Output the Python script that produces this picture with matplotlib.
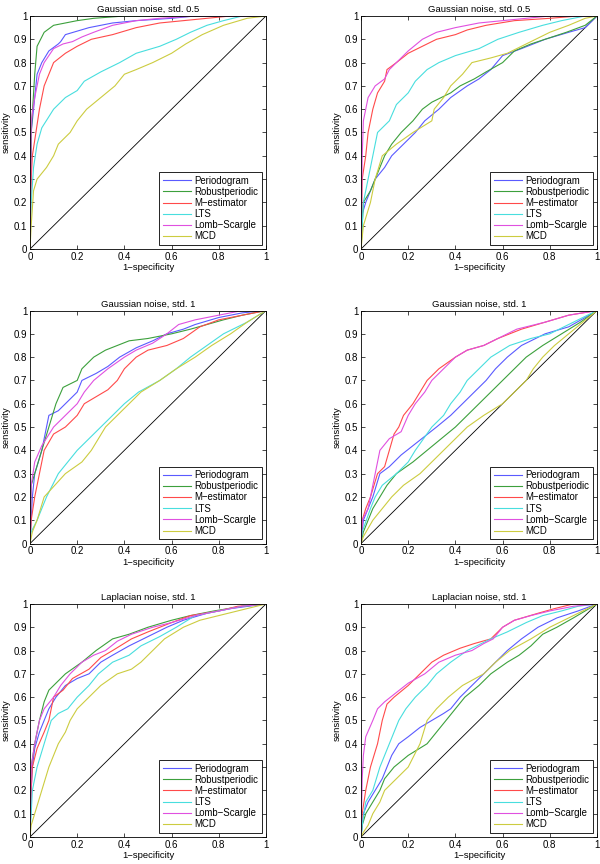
import matplotlib
matplotlib.use('Agg')
import matplotlib.pyplot as plt

plt.rcParams['font.family'] = ['Liberation Sans', 'DejaVu Sans']
plt.rcParams['font.size'] = 7

methods = ['Periodogram', 'Robustperiodic', 'M-estimator', 'LTS', 'Lomb-Scargle', 'MCD']
colors = ['#5a5aff', '#3ca03c', '#ff4a4a', '#48dede', '#e050e0', '#cccc40']

titles = ['Gaussian noise, std. 0.5', 'Gaussian noise, std. 0.5',
          'Gaussian noise, std. 1', 'Gaussian noise, std. 1',
          'Laplacian noise, std. 1', 'Laplacian noise, std. 1']

# (1-specificity, sensitivity)
g05_left = {
    'Periodogram': ([0, 0.005, 0.02, 0.03, 0.05, 0.08, 0.12, 0.13, 0.15, 0.25, 0.35, 0.45, 0.6, 0.7, 1],
                    [0, 0.5, 0.65, 0.75, 0.8, 0.85, 0.88, 0.89, 0.92, 0.95, 0.97, 0.98, 0.99, 1, 1]),
    'Robustperiodic': ([0, 0.005, 0.02, 0.03, 0.06, 0.1, 0.2, 0.27, 0.4, 1],
                       [0, 0.5, 0.75, 0.87, 0.93, 0.96, 0.98, 0.99, 1, 1]),
    'M-estimator': ([0, 0.005, 0.01, 0.025, 0.04, 0.06, 0.08, 0.1, 0.15, 0.2, 0.26, 0.35, 0.45, 0.55, 0.65, 0.75, 0.85, 1],
                    [0, 0.3, 0.4, 0.5, 0.6, 0.7, 0.75, 0.8, 0.84, 0.87, 0.9, 0.92, 0.95, 0.97, 0.98, 0.99, 1, 1]),
    'LTS': ([0, 0.005, 0.015, 0.03, 0.05, 0.1, 0.15, 0.2, 0.23, 0.3, 0.38, 0.45, 0.55, 0.62, 0.68, 0.75, 0.82, 0.9, 1],
            [0, 0.2, 0.35, 0.45, 0.52, 0.6, 0.65, 0.68, 0.72, 0.76, 0.8, 0.84, 0.87, 0.9, 0.93, 0.96, 0.98, 1, 1]),
    'Lomb-Scargle': ([0, 0.005, 0.02, 0.04, 0.06, 0.1, 0.14, 0.18, 0.22, 0.27, 0.35, 0.45, 0.55, 0.7, 1],
                     [0, 0.55, 0.65, 0.75, 0.8, 0.86, 0.88, 0.89, 0.91, 0.93, 0.96, 0.98, 0.99, 1, 1]),
    'MCD': ([0, 0.005, 0.015, 0.03, 0.07, 0.1, 0.12, 0.17, 0.2, 0.24, 0.3, 0.36, 0.4, 0.45, 0.52, 0.6, 0.66, 0.73, 0.82, 0.92, 1],
            [0, 0.1, 0.25, 0.3, 0.35, 0.4, 0.45, 0.5, 0.55, 0.6, 0.65, 0.7, 0.75, 0.77, 0.8, 0.84, 0.88, 0.92, 0.96, 0.99, 1]),
}

g05_right = {
    'Periodogram': ([0, 0.005, 0.02, 0.04, 0.06, 0.1, 0.13, 0.18, 0.23, 0.27, 0.33, 0.38, 0.45, 0.5, 0.55, 0.6, 0.68, 0.78, 0.88, 0.95, 1],
                    [0, 0.15, 0.2, 0.25, 0.3, 0.35, 0.4, 0.45, 0.5, 0.55, 0.6, 0.65, 0.7, 0.73, 0.77, 0.83, 0.86, 0.9, 0.93, 0.95, 1]),
    'Robustperiodic': ([0, 0.01, 0.04, 0.06, 0.1, 0.13, 0.17, 0.22, 0.26, 0.3, 0.38, 0.42, 0.48, 0.53, 0.6, 0.65, 0.72, 0.78, 0.87, 0.95, 1],
                       [0, 0.2, 0.25, 0.3, 0.4, 0.45, 0.5, 0.55, 0.6, 0.63, 0.67, 0.7, 0.73, 0.76, 0.8, 0.85, 0.88, 0.9, 0.93, 0.96, 1]),
    'M-estimator': ([0, 0.005, 0.02, 0.03, 0.05, 0.07, 0.1, 0.11, 0.15, 0.2, 0.26, 0.32, 0.4, 0.45, 0.53, 0.65, 0.8, 0.92, 1],
                    [0, 0.3, 0.4, 0.5, 0.6, 0.67, 0.72, 0.77, 0.8, 0.84, 0.87, 0.9, 0.92, 0.94, 0.96, 0.98, 0.99, 1, 1]),
    'LTS': ([0, 0.005, 0.01, 0.03, 0.05, 0.07, 0.12, 0.15, 0.2, 0.23, 0.28, 0.33, 0.4, 0.5, 0.58, 0.67, 0.77, 0.85, 0.95, 1],
            [0, 0.1, 0.2, 0.3, 0.4, 0.5, 0.55, 0.62, 0.67, 0.72, 0.77, 0.8, 0.83, 0.86, 0.9, 0.93, 0.96, 0.98, 1, 1]),
    'Lomb-Scargle': ([0, 0.005, 0.01, 0.03, 0.06, 0.1, 0.12, 0.16, 0.2, 0.26, 0.32, 0.4, 0.5, 0.6, 0.7, 0.8, 1],
                     [0, 0.4, 0.55, 0.65, 0.7, 0.73, 0.77, 0.81, 0.85, 0.9, 0.93, 0.95, 0.97, 0.98, 0.99, 1, 1]),
    'MCD': ([0, 0.005, 0.01, 0.04, 0.06, 0.09, 0.15, 0.22, 0.3, 0.31, 0.35, 0.38, 0.43, 0.47, 0.55, 0.62, 0.7, 0.8, 0.88, 0.95, 1],
            [0, 0.05, 0.1, 0.2, 0.3, 0.4, 0.45, 0.5, 0.55, 0.6, 0.65, 0.7, 0.75, 0.8, 0.82, 0.84, 0.88, 0.93, 0.96, 0.99, 1]),
}

g1_left = {
    'Periodogram': ([0, 0.005, 0.01, 0.02, 0.05, 0.08, 0.12, 0.15, 0.2, 0.22, 0.28, 0.33, 0.38, 0.45, 0.52, 0.58, 0.65, 0.7, 0.8, 0.9, 1],
                    [0, 0.1, 0.2, 0.3, 0.4, 0.55, 0.57, 0.6, 0.65, 0.7, 0.73, 0.76, 0.8, 0.84, 0.87, 0.9, 0.92, 0.94, 0.97, 0.99, 1]),
    'Robustperiodic': ([0, 0.005, 0.02, 0.05, 0.08, 0.11, 0.14, 0.2, 0.22, 0.27, 0.32, 0.37, 0.42, 0.5, 0.6, 0.68, 0.75, 0.82, 0.9, 1],
                       [0, 0.25, 0.3, 0.4, 0.5, 0.6, 0.67, 0.7, 0.75, 0.8, 0.83, 0.85, 0.87, 0.88, 0.9, 0.92, 0.94, 0.96, 0.98, 1]),
    'M-estimator': ([0, 0.005, 0.02, 0.04, 0.06, 0.1, 0.15, 0.2, 0.23, 0.28, 0.33, 0.37, 0.4, 0.45, 0.5, 0.58, 0.65, 0.72, 0.8, 0.9, 1],
                    [0, 0.1, 0.2, 0.3, 0.4, 0.47, 0.5, 0.55, 0.6, 0.63, 0.66, 0.7, 0.75, 0.8, 0.83, 0.85, 0.88, 0.93, 0.96, 0.98, 1]),
    'LTS': ([0, 0.005, 0.03, 0.07, 0.12, 0.2, 0.3, 0.35, 0.4, 0.46, 0.55, 0.62, 0.68, 0.75, 0.82, 0.92, 1],
            [0, 0.05, 0.1, 0.2, 0.3, 0.4, 0.5, 0.55, 0.6, 0.65, 0.7, 0.75, 0.8, 0.85, 0.9, 0.95, 1]),
    'Lomb-Scargle': ([0, 0.005, 0.02, 0.05, 0.1, 0.15, 0.2, 0.23, 0.27, 0.33, 0.4, 0.45, 0.52, 0.58, 0.63, 0.7, 0.8, 0.9, 1],
                     [0, 0.25, 0.35, 0.42, 0.5, 0.55, 0.6, 0.65, 0.7, 0.75, 0.8, 0.83, 0.86, 0.9, 0.94, 0.96, 0.98, 1, 1]),
    'MCD': ([0, 0.01, 0.03, 0.06, 0.15, 0.22, 0.26, 0.32, 0.37, 0.42, 0.47, 0.55, 0.62, 0.7, 0.77, 0.85, 0.92, 1],
            [0, 0.05, 0.1, 0.2, 0.3, 0.35, 0.4, 0.5, 0.55, 0.6, 0.65, 0.7, 0.75, 0.8, 0.85, 0.9, 0.95, 1]),
}

g1_right = {
    'Periodogram': ([0, 0.01, 0.05, 0.08, 0.12, 0.17, 0.22, 0.27, 0.32, 0.38, 0.43, 0.48, 0.53, 0.57, 0.62, 0.68, 0.78, 0.88, 0.95, 1],
                    [0, 0.1, 0.2, 0.3, 0.33, 0.38, 0.42, 0.46, 0.5, 0.55, 0.6, 0.65, 0.7, 0.75, 0.8, 0.85, 0.9, 0.93, 0.97, 1]),
    'Robustperiodic': ([0, 0.01, 0.03, 0.05, 0.08, 0.11, 0.15, 0.22, 0.28, 0.34, 0.4, 0.45, 0.5, 0.55, 0.6, 0.65, 0.7, 0.77, 0.85, 0.93, 1],
                       [0, 0.05, 0.1, 0.15, 0.2, 0.25, 0.3, 0.35, 0.4, 0.45, 0.5, 0.55, 0.6, 0.65, 0.7, 0.75, 0.8, 0.85, 0.9, 0.95, 1]),
    'M-estimator': ([0, 0.005, 0.02, 0.04, 0.07, 0.1, 0.12, 0.14, 0.16, 0.18, 0.22, 0.25, 0.28, 0.33, 0.4, 0.45, 0.52, 0.58, 0.68, 0.78, 0.88, 1],
                    [0, 0.1, 0.15, 0.2, 0.3, 0.33, 0.4, 0.47, 0.5, 0.55, 0.6, 0.65, 0.7, 0.75, 0.8, 0.83, 0.85, 0.88, 0.92, 0.95, 0.98, 1]),
    'LTS': ([0, 0.005, 0.04, 0.06, 0.09, 0.15, 0.2, 0.23, 0.3, 0.35, 0.38, 0.42, 0.45, 0.5, 0.55, 0.63, 0.72, 0.8, 0.9, 1],
            [0, 0.05, 0.15, 0.2, 0.25, 0.3, 0.35, 0.4, 0.5, 0.55, 0.6, 0.65, 0.7, 0.75, 0.8, 0.85, 0.88, 0.9, 0.95, 1]),
    'Lomb-Scargle': ([0, 0.005, 0.03, 0.04, 0.06, 0.08, 0.12, 0.17, 0.2, 0.23, 0.27, 0.3, 0.35, 0.4, 0.45, 0.52, 0.58, 0.66, 0.78, 0.88, 1],
                     [0, 0.1, 0.15, 0.2, 0.3, 0.4, 0.45, 0.48, 0.55, 0.6, 0.65, 0.7, 0.75, 0.8, 0.83, 0.85, 0.88, 0.92, 0.95, 0.98, 1]),
    'MCD': ([0, 0.01, 0.05, 0.09, 0.13, 0.18, 0.25, 0.3, 0.35, 0.4, 0.45, 0.52, 0.6, 0.65, 0.7, 0.73, 0.77, 0.82, 0.88, 0.94, 1],
            [0, 0.03, 0.1, 0.15, 0.2, 0.25, 0.3, 0.35, 0.4, 0.45, 0.5, 0.55, 0.6, 0.65, 0.7, 0.75, 0.8, 0.85, 0.9, 0.95, 1]),
}

lap_left = {
    'Periodogram': ([0, 0.005, 0.01, 0.02, 0.04, 0.06, 0.08, 0.11, 0.15, 0.2, 0.25, 0.3, 0.35, 0.42, 0.5, 0.58, 0.65, 0.75, 0.85, 1],
                    [0, 0.2, 0.3, 0.38, 0.45, 0.5, 0.55, 0.6, 0.65, 0.68, 0.7, 0.75, 0.78, 0.82, 0.86, 0.9, 0.93, 0.96, 0.98, 1]),
    'Robustperiodic': ([0, 0.005, 0.02, 0.04, 0.06, 0.08, 0.12, 0.15, 0.22, 0.28, 0.35, 0.42, 0.5, 0.6, 0.68, 0.78, 0.9, 1],
                       [0, 0.3, 0.4, 0.5, 0.58, 0.63, 0.67, 0.7, 0.75, 0.8, 0.85, 0.87, 0.9, 0.93, 0.95, 0.97, 0.99, 1]),
    'M-estimator': ([0, 0.005, 0.01, 0.03, 0.06, 0.08, 0.1, 0.14, 0.18, 0.25, 0.3, 0.35, 0.43, 0.5, 0.6, 0.68, 0.8, 0.88, 1],
                    [0, 0.2, 0.3, 0.38, 0.45, 0.5, 0.6, 0.63, 0.68, 0.72, 0.77, 0.8, 0.85, 0.88, 0.92, 0.95, 0.97, 0.99, 1]),
    'LTS': ([0, 0.005, 0.01, 0.03, 0.06, 0.09, 0.12, 0.16, 0.2, 0.25, 0.29, 0.35, 0.42, 0.47, 0.55, 0.62, 0.7, 0.8, 0.9, 1],
            [0, 0.1, 0.2, 0.3, 0.4, 0.5, 0.53, 0.55, 0.6, 0.65, 0.7, 0.75, 0.78, 0.82, 0.86, 0.9, 0.95, 0.97, 0.99, 1]),
    'Lomb-Scargle': ([0, 0.005, 0.02, 0.04, 0.06, 0.1, 0.13, 0.17, 0.22, 0.27, 0.32, 0.37, 0.43, 0.52, 0.6, 0.7, 0.8, 0.9, 1],
                     [0, 0.3, 0.4, 0.5, 0.55, 0.6, 0.65, 0.7, 0.75, 0.78, 0.8, 0.84, 0.87, 0.9, 0.92, 0.95, 0.97, 0.99, 1]),
    'MCD': ([0, 0.005, 0.02, 0.05, 0.08, 0.12, 0.15, 0.17, 0.2, 0.25, 0.3, 0.37, 0.43, 0.47, 0.52, 0.57, 0.65, 0.72, 0.8, 0.88, 1],
            [0, 0.05, 0.1, 0.2, 0.3, 0.4, 0.45, 0.5, 0.55, 0.6, 0.65, 0.7, 0.72, 0.75, 0.8, 0.85, 0.9, 0.93, 0.95, 0.97, 1]),
}

lap_right = {
    'Periodogram': ([0, 0.005, 0.01, 0.03, 0.06, 0.09, 0.11, 0.13, 0.16, 0.2, 0.25, 0.3, 0.35, 0.38, 0.42, 0.47, 0.52, 0.57, 0.62, 0.68, 0.75, 0.83, 0.92, 1],
                    [0, 0.05, 0.1, 0.15, 0.2, 0.25, 0.3, 0.35, 0.4, 0.43, 0.47, 0.5, 0.53, 0.55, 0.6, 0.65, 0.7, 0.75, 0.8, 0.85, 0.9, 0.94, 0.97, 1]),
    'Robustperiodic': ([0, 0.005, 0.02, 0.05, 0.08, 0.1, 0.14, 0.2, 0.28, 0.32, 0.36, 0.4, 0.44, 0.5, 0.55, 0.62, 0.67, 0.72, 0.77, 0.83, 0.9, 1],
                       [0, 0.05, 0.1, 0.15, 0.2, 0.25, 0.3, 0.35, 0.4, 0.45, 0.5, 0.55, 0.6, 0.65, 0.7, 0.75, 0.78, 0.82, 0.87, 0.9, 0.94, 1]),
    'M-estimator': ([0, 0.005, 0.02, 0.04, 0.07, 0.09, 0.11, 0.14, 0.2, 0.25, 0.3, 0.35, 0.42, 0.48, 0.55, 0.6, 0.65, 0.75, 0.82, 0.9, 1],
                    [0, 0.1, 0.2, 0.3, 0.4, 0.5, 0.57, 0.6, 0.65, 0.7, 0.75, 0.78, 0.81, 0.83, 0.85, 0.9, 0.93, 0.96, 0.98, 1, 1]),
    'LTS': ([0, 0.005, 0.02, 0.05, 0.08, 0.12, 0.16, 0.19, 0.23, 0.28, 0.32, 0.38, 0.45, 0.55, 0.62, 0.7, 0.77, 0.85, 0.92, 1],
            [0, 0.05, 0.15, 0.2, 0.3, 0.4, 0.5, 0.55, 0.6, 0.65, 0.7, 0.75, 0.8, 0.85, 0.88, 0.92, 0.95, 0.97, 0.99, 1]),
    'Lomb-Scargle': ([0, 0.005, 0.01, 0.02, 0.05, 0.07, 0.1, 0.15, 0.2, 0.27, 0.33, 0.4, 0.47, 0.52, 0.56, 0.6, 0.65, 0.72, 0.8, 0.9, 1],
                     [0, 0.25, 0.35, 0.43, 0.5, 0.55, 0.58, 0.62, 0.66, 0.7, 0.75, 0.78, 0.8, 0.83, 0.85, 0.9, 0.93, 0.95, 0.97, 0.99, 1]),
    'MCD': ([0, 0.01, 0.03, 0.05, 0.08, 0.1, 0.15, 0.2, 0.25, 0.28, 0.32, 0.37, 0.43, 0.52, 0.57, 0.63, 0.72, 0.8, 0.9, 1],
            [0, 0.02, 0.05, 0.1, 0.15, 0.2, 0.25, 0.3, 0.4, 0.5, 0.55, 0.6, 0.65, 0.7, 0.75, 0.8, 0.85, 0.9, 0.95, 1]),
}

panels = [g05_left, g05_right, g1_left, g1_right, lap_left, lap_right]

fig = plt.figure(figsize=(6, 8.64), dpi=100)

# axes boxes in figure fractions
col_left = [0.05, 0.6017]
row_bottom = [0.7118, 0.3709, 0.0313]
w, h = 0.3933, 0.2697

for i, data in enumerate(panels):
    ax = fig.add_axes([col_left[i % 2], row_bottom[i // 2], w, h])
    ax.plot([0, 1], [0, 1], color='black', lw=0.6)
    lines = []
    for m, c in zip(methods, colors):
        x, y = data[m]
        # matlab draws the hyphen as a minus sign
        l, = ax.plot(x, y, color=c, lw=0.8, label=m.replace('-', '\u2212'))
        lines.append(l)
    ax.set_xlim(0, 1)
    ax.set_ylim(0, 1)
    ax.set_xticks([0, 0.2, 0.4, 0.6, 0.8, 1])
    ax.set_xticklabels(['0', '0.2', '0.4', '0.6', '0.8', '1'])
    ax.set_yticks([k / 10 for k in range(11)])
    ax.set_yticklabels(['0'] + ['%.1f' % (k / 10) for k in range(1, 10)] + ['1'])
    ax.tick_params(direction='in', top=True, right=True, length=3, width=0.5, labelsize=7, pad=2)
    for s in ax.spines.values():
        s.set_linewidth(0.6)
    ax.set_title(titles[i], fontsize=6.8, pad=3)
    ax.set_xlabel('1\u2212specificity', fontsize=6.8, labelpad=1)
    ax.set_ylabel('sensitivity', fontsize=6.8, labelpad=2)
    leg = ax.legend(handles=lines, loc='lower right', fontsize=6.9, fancybox=False,
                    framealpha=1, edgecolor='black', handlelength=2.9, handletextpad=0.4,
                    labelspacing=0.12, borderpad=0.35, borderaxespad=0.45)
    leg.get_frame().set_linewidth(0.6)

fig.savefig('out.png', dpi=100)
